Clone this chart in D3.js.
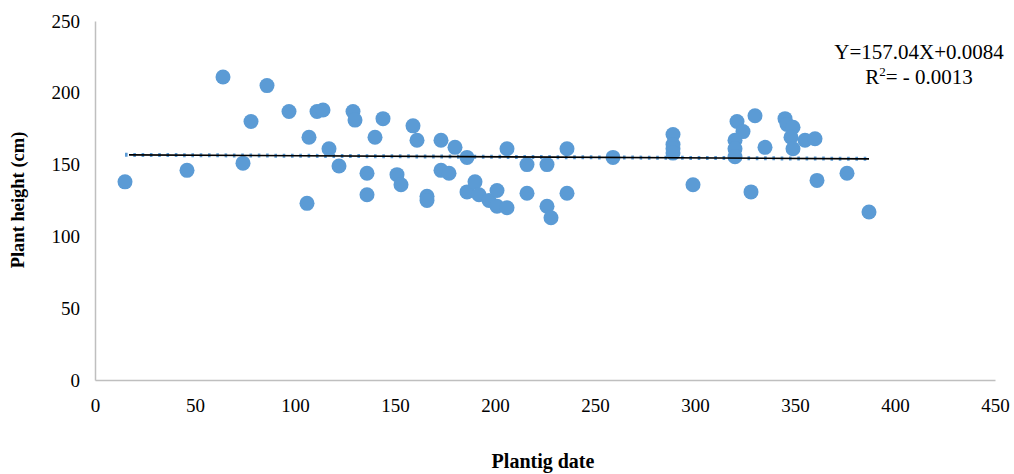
<!DOCTYPE html>
<html>
<head>
<meta charset="utf-8">
<script src="https://cdn.jsdelivr.net/npm/d3@7"></script>
<style>
  html, body { margin: 0; padding: 0; background: #fff; }
  svg { display: block; }
  text { font-family: "Liberation Serif", "Times New Roman", serif; fill: #000; }
</style>
</head>
<body>
<svg id="chart" width="1014" height="474"></svg>
<script>
// Data
const plantingDate = [15, 46, 64, 74, 78, 86, 97, 106, 107, 111, 114, 117, 122, 129, 130,
  136, 136, 140, 144, 151, 153, 159, 161, 166, 166, 173, 173, 177, 180, 186, 186, 190, 192,
  197, 201, 201, 206, 206, 216, 216, 226, 226, 228, 236, 236, 259, 289, 289, 289, 289, 299,
  321, 324, 320, 320, 320, 328, 330, 335, 345, 346, 349, 348, 349, 355, 360, 361, 376, 387];
const plantHeight = [138, 146, 211, 151, 180, 205, 187, 123, 169, 187, 188, 161, 149, 187, 181,
  144, 129, 169, 182, 143, 136, 177, 167, 128, 125, 167, 146, 144, 162, 155, 131, 138, 129,
  125, 132, 121, 161, 120, 150, 130, 150, 121, 113, 161, 130, 155, 171, 164, 161, 158, 136,
  180, 173, 167, 161, 155.5, 131, 184, 162, 182, 178, 176, 169, 161, 167, 168, 139, 144, 117];
const trendX = [15, 387];
const trendY = [156.8, 154.0];
const xTicks = [0, 50, 100, 150, 200, 250, 300, 350, 400, 450];
const yTicks = [0, 50, 100, 150, 200, 250];
const equationText = "Y=157.04X+0.0084";
const rSquaredLabel = ["R", "2", "= - 0.0013"];
const xTitle = "Plantig date";
const yTitle = "Plant height (cm)";

const svg = d3.select("#chart");
const x = d3.scaleLinear().domain([0, 450]).range([95, 995]);
const y = d3.scaleLinear().domain([0, 250]).range([380, 21]);

// Axes (no tick marks, gray axis lines)
const xAxis = d3.axisBottom(x).tickValues(xTicks).tickSize(0).tickPadding(19);
const yAxis = d3.axisLeft(y).tickValues(yTicks).tickSize(0).tickPadding(15);

const gx = svg.append("g").attr("transform", `translate(0,${y(0)})`).call(xAxis);
const gy = svg.append("g").attr("transform", `translate(${x(0)},0)`).call(yAxis);
[gx, gy].forEach(g => {
  g.select(".domain").attr("stroke", "#bfbfbf").attr("stroke-width", 1.5);
  g.selectAll("text").style("font-family", '"Liberation Serif", serif').style("font-size", "19px").attr("fill", "#000");
});

// Points
svg.append("g").selectAll("circle")
  .data(plantingDate.map((d, i) => [d, plantHeight[i]]))
  .join("circle")
  .attr("cx", d => x(d[0]))
  .attr("cy", d => y(d[1]))
  .attr("r", 7.5)
  .attr("fill", "#5b9bd5");

// Trend lines: dotted blue + solid black
const line = d3.line().x(d => x(d[0])).y(d => y(d[1]));
const trend = trendX.map((d, i) => [d, trendY[i]]);
svg.append("path").datum(trend).attr("d", line)
  .attr("fill", "none").attr("stroke", "#5b9bd5").attr("stroke-width", 4)
  .attr("stroke-dasharray", "2.6,5.7");
svg.append("path").datum([[trendX[0] + 2, trendY[0]], [trendX[1], trendY[1]]]).attr("d", line)
  .attr("fill", "none").attr("stroke", "#000").attr("stroke-width", 1.6);

// Equation
svg.append("text").attr("x", 919).attr("y", 59).attr("text-anchor", "middle")
  .style("font-size", "21px").text(equationText);
const r2 = svg.append("text").attr("x", 919).attr("y", 84).attr("text-anchor", "middle")
  .style("font-size", "21px");
r2.append("tspan").text(rSquaredLabel[0]);
r2.append("tspan").attr("dy", -8).style("font-size", "13px").text(rSquaredLabel[1]);
r2.append("tspan").attr("dy", 8).text(rSquaredLabel[2]);

// Axis titles
svg.append("text").attr("x", 543).attr("y", 468).attr("text-anchor", "middle")
  .style("font-size", "20px").style("font-weight", "bold").text(xTitle);
svg.append("text").attr("transform", `translate(24,200) rotate(-90)`).attr("text-anchor", "middle")
  .style("font-size", "18.5px").style("font-weight", "bold").text(yTitle);
</script>
</body>
</html>
